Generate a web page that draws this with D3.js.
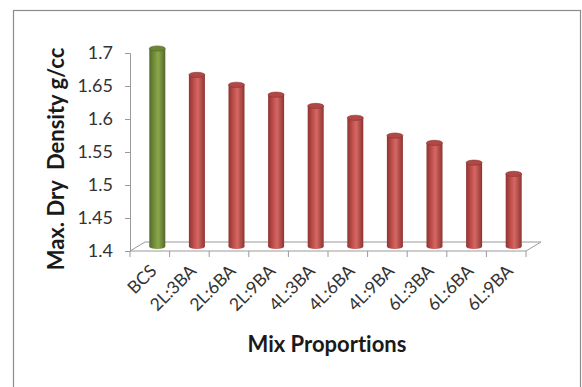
<!DOCTYPE html>
<html>
<head>
<meta charset="utf-8">
<script src="https://cdn.jsdelivr.net/npm/d3@7"></script>
<style>
  html, body { margin: 0; padding: 0; background: #fff; }
  svg { display: block; }
  text { font-variant-ligatures: none; font-feature-settings: "liga" 0; }
</style>
</head>
<body>
<svg id="chart" width="582" height="387"></svg>
<script>
// Mix proportions and their maximum dry density (g/cc)
const categories = ["BCS", "2L:3BA", "2L:6BA", "2L:9BA", "4L:3BA", "4L:6BA", "4L:9BA", "6L:3BA", "6L:6BA", "6L:9BA"];
const densities = [1.70, 1.66, 1.645, 1.63, 1.613, 1.595, 1.568, 1.557, 1.527, 1.51];
const yTicks = [1.4, 1.45, 1.5, 1.55, 1.6, 1.65, 1.7];
const yTickLabels = ["1.4", "1.45", "1.5", "1.55", "1.6", "1.65", "1.7"];

const svg = d3.select("#chart");
const font = "Lato, 'Open Sans', sans-serif";

// outer chart frame
svg.append("rect")
  .attr("x", 13.5).attr("y", 10.5)
  .attr("width", 567).attr("height", 390)
  .attr("fill", "#fff")
  .attr("stroke", "#8c8c8c").attr("stroke-width", 1.2);

const x = d3.scaleBand().domain(categories).range([130, 526]).padding(0);
const y = d3.scaleLinear().domain([1.4, 1.7]).range([251, 53]);

// 3D depth offset of the floor
const depth = { dx: 15, dy: -9 };
const barW = 16;
const capRy = 2.6;

const defs = svg.append("defs");
function cylGrad(id, dark, mid, light) {
  const g = defs.append("linearGradient").attr("id", id)
    .attr("x1", "0%").attr("x2", "100%").attr("y1", "0%").attr("y2", "0%");
  g.append("stop").attr("offset", "0%").attr("stop-color", dark);
  g.append("stop").attr("offset", "35%").attr("stop-color", mid);
  g.append("stop").attr("offset", "55%").attr("stop-color", light);
  g.append("stop").attr("offset", "100%").attr("stop-color", dark);
}
cylGrad("gGreen", "#55692a", "#77933c", "#8aa84a");
cylGrad("gRed", "#8f3431", "#c4524f", "#d46864");

// floor (parallelogram)
const x0 = x.range()[0], x1 = x.range()[1], yb = y(1.4);
svg.append("path")
  .attr("d", `M${x0},${yb} L${x1},${yb} L${x1 + depth.dx},${yb + depth.dy} L${x0 + depth.dx},${yb + depth.dy} Z`)
  .attr("fill", "none").attr("stroke", "#9a9a9a").attr("stroke-width", 1);

// category tick marks along the front edge
const tickXs = categories.map(c => x(c)).concat([x1]);
svg.append("g").selectAll("line").data(tickXs).join("line")
  .attr("x1", d => d).attr("x2", d => d)
  .attr("y1", yb).attr("y2", yb + 6)
  .attr("stroke", "#9a9a9a");

// value axis
const yAxis = d3.axisLeft(y)
  .tickValues(yTicks)
  .tickFormat((d, i) => yTickLabels[i])
  .tickSize(5).tickPadding(12);
const ga = svg.append("g").attr("transform", `translate(${x0},0)`).call(yAxis);
ga.select(".domain").attr("stroke", "#9a9a9a");
ga.selectAll(".tick line").attr("stroke", "#9a9a9a");
ga.selectAll(".tick text")
  .attr("font-family", font).attr("font-size", 18)
  .attr("fill", "#333");

// cylinders
const bars = svg.append("g").selectAll("g").data(categories).join("g");
bars.each(function (c, i) {
  const g = d3.select(this);
  const cx = x(c) + x.bandwidth() / 2 + depth.dx / 2;
  const top = y(densities[i]) + depth.dy / 2;
  const bot = y(1.4) + depth.dy / 2;
  const fill = i === 0 ? "url(#gGreen)" : "url(#gRed)";
  const capFill = i === 0 ? "#6b8535" : "#b04845";
  const rim = i === 0 ? "#50642a" : "#8a3230";
  g.append("ellipse")
    .attr("cx", cx).attr("cy", bot)
    .attr("rx", barW / 2).attr("ry", capRy)
    .attr("fill", fill);
  g.append("rect")
    .attr("x", cx - barW / 2).attr("y", top)
    .attr("width", barW).attr("height", bot - top)
    .attr("fill", fill);
  g.append("ellipse")
    .attr("cx", cx).attr("cy", top)
    .attr("rx", barW / 2).attr("ry", capRy)
    .attr("fill", capFill).attr("stroke", rim).attr("stroke-width", 0.6);
});

// rotated category labels
svg.append("g").selectAll("text").data(categories).join("text")
  .attr("transform", c => `translate(${x(c) + x.bandwidth() / 2 + 8},${yb + 21}) rotate(-45)`)
  .attr("text-anchor", "end")
  .attr("font-family", font).attr("font-size", 17.5)
  .attr("fill", "#333")
  .text(c => c);

// axis titles
svg.append("text")
  .attr("x", 327).attr("y", 352)
  .attr("text-anchor", "middle")
  .attr("font-family", font).attr("font-size", 22).attr("font-weight", "bold")
  .attr("fill", "#1a1a1a")
  .text("Mix Proportions");

svg.append("text")
  .attr("transform", "translate(64,159) rotate(-90)")
  .attr("text-anchor", "middle")
  .attr("font-family", font).attr("font-size", 22).attr("font-weight", "bold")
  .attr("fill", "#1a1a1a")
  .attr("xml:space", "preserve")
  .style("white-space", "pre")
  .text("Max. Dry  Density g/cc");
</script>
</body>
</html>
